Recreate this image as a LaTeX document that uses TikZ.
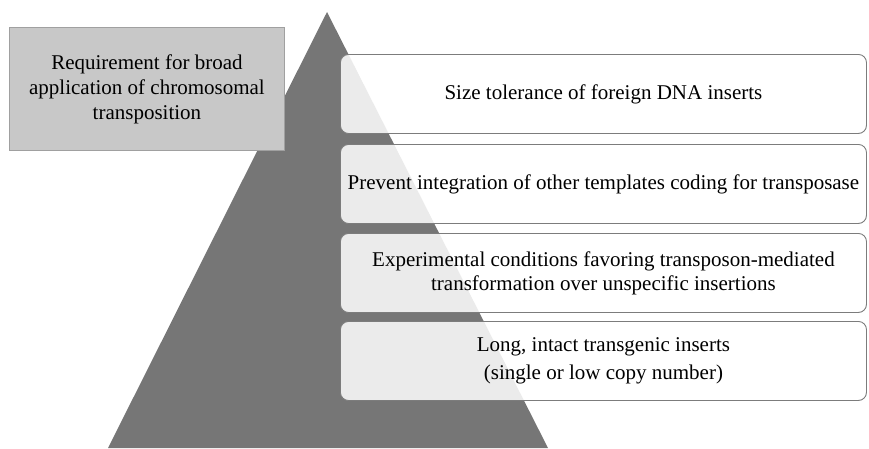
\documentclass[tikz,border=0pt]{standalone}
\usepackage{fontspec}
\setmainfont{Liberation Serif}
\newfontfamily\tiertext{Liberation Serif}
\definecolor{pyramidgray}{HTML}{767676}
\definecolor{headfill}{HTML}{C8C8C8}
\definecolor{headline}{HTML}{A0A0A0}
\definecolor{tierline}{HTML}{7C7C7C}
\begin{document}
\begin{tikzpicture}[x=1pt,y=-1pt,
  tierbox/.style={draw=tierline, line width=0.9pt, rounded corners=8pt,
    fill=white, fill opacity=0.86, text opacity=1, align=center,
    font=\tiertext\fontsize{21}{24}\selectfont, minimum width=526pt,
    minimum height=79pt, anchor=north west, inner sep=0pt},
  headbox/.style={draw=headline, line width=0.9pt, fill=headfill,
    align=center, font=\tiertext\fontsize{21}{25}\selectfont,
    minimum width=275pt, minimum height=123pt, anchor=north west,
    inner sep=0pt}]
  \path[use as bounding box] (0,0) rectangle (869,448);
  % pyramid behind the tiers
  \fill[pyramidgray] (327,12) -- (548,448) -- (108,448) -- cycle;
  % heading box
  \node[headbox] (head) at (9,27)
    {Requirement for broad\\application of chromosomal\\transposition};
  % tiers
  \node[tierbox] (t1) at (340,54) {Size tolerance of foreign DNA inserts};
  \node[tierbox] (t2) at (340,144)
    {Prevent integration of other templates coding for transposase};
  \node[tierbox] (t3) at (340,233)
    {Experimental conditions favoring transposon-mediated\\transformation over unspecific insertions};
  \node[tierbox] (t4) at (340,321)
    {Long, intact transgenic inserts\\[4pt](single or low copy number)};
\end{tikzpicture}
\end{document}
